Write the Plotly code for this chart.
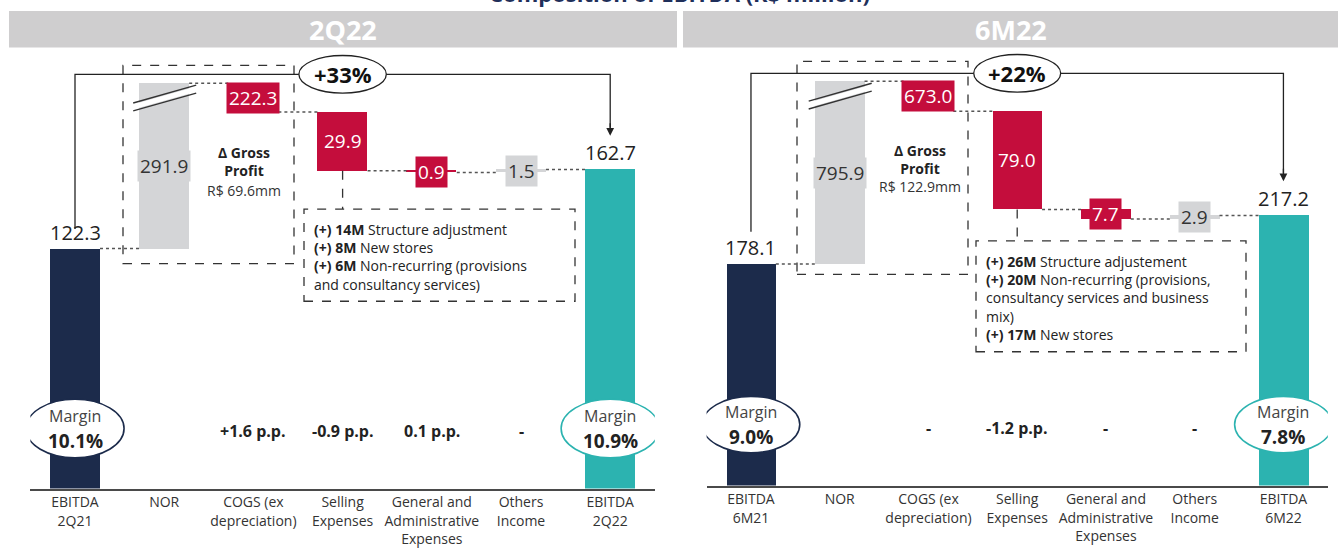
import plotly.graph_objects as go

W, H = 1338, 548
FONT = "'Open Sans', 'Noto Sans', sans-serif"
NAVY = "#1c2b4b"
RED = "#c40d3c"
TEAL = "#2cb3b0"
GREY = "#d4d5d7"
HEAD = "#cfcecf"
INK = "#222222"
LINE = "#555555"

# ---------------- data ----------------
title = "Composition of EBITDA (R$ million)"
panel_titles = ["2Q22", "6M22"]

cats_2q = ["EBITDA<br>2Q21", "NOR", "COGS (ex<br>depreciation)", "Selling<br>Expenses",
           "General and<br>Administrative<br>Expenses", "Others<br>Income", "EBITDA<br>2Q22"]
cats_6m = ["EBITDA<br>6M21", "NOR", "COGS (ex<br>depreciation)", "Selling<br>Expenses",
           "General and<br>Administrative<br>Expenses", "Others<br>Income", "EBITDA<br>6M22"]

vals_2q = [122.3, 291.9, -222.3, -29.9, -0.9, 1.5, 162.7]
vals_6m = [178.1, 795.9, -673.0, -79.0, -7.7, 2.9, 217.2]

pp_2q = ["", "", "+1.6 p.p.", "-0.9 p.p.", "0.1 p.p.", "-", ""]
pp_6m = ["", "", "-", "-1.2 p.p.", "-", "-", ""]

margin_2q = ["10.1%", "10.9%"]
margin_6m = ["9.0%", "7.8%"]

gross_2q = "R$ 69.6mm"
gross_6m = "R$ 122.9mm"

notes_2q = [("(+) 14M", "Structure adjustment"),
            ("(+) 8M", "New stores"),
            ("(+) 6M", "Non-recurring (provisions<br>and consultancy services)")]
notes_6m = [("(+) 26M", "Structure adjustement"),
            ("(+) 20M", "Non-recurring (provisions,<br>consultancy services and business<br>mix)"),
            ("(+) 17M", "New stores")]

# ---------------- geometry (pixels) ----------------
panels = [
    dict(name=panel_titles[0], cats=cats_2q, vals=vals_2q, pp=pp_2q, margins=margin_2q,
         gross=gross_2q, notes=notes_2q,
         x0=30.4, x1=654.8, axis_px=493, ppu=1.98, gap=207.6,
         head=(9, 677), growth_y=75, drop_left=231, arrow_tip=137,
         box1=(123, 294, 66, 266), box2=(304, 575, 211, 304),
         gross_y=(163, 192), pp_y=435, ell=(403, 462), marg_y=(420, 445)),
    dict(name=panel_titles[1], cats=cats_6m, vals=vals_6m, pp=pp_6m, margins=margin_6m,
         gross=gross_6m, notes=notes_6m,
         x0=706.6, x1=1327.8, axis_px=490, ppu=1.255, gap=648.9,
         head=(683, 1338), growth_y=74, drop_left=234, arrow_tip=183,
         box1=(797, 968, 62, 277), box2=(976, 1246, 243, 355),
         gross_y=(161, 188), pp_y=432, ell=(400, 457), marg_y=(416, 441)),
]


def py2p(py):
    return 1 - py / H


def ann(**kw):
    d = dict(showarrow=False, xanchor="center", yanchor="middle")
    d.update(kw)
    return d


fig = go.Figure()
shapes = []
annotations = []

for k, p in enumerate(panels):
    xa = "x" if k == 0 else "x2"
    ya = "y" if k == 0 else "y2"
    step = (p["x1"] - p["x0"]) / 7

    def px2x(px, p=p, step=step):
        return (px - p["x0"]) / step - 0.5

    def v2py(v, p=p):
        return p["axis_px"] - v * p["ppu"]

    cap = p["axis_px"] / p["ppu"]
    vals = p["vals"]
    n = len(vals)
    starts, ends = [], []
    run = 0.0
    for i, v in enumerate(vals):
        if i == 0 or i == n - 1:
            s, e = 0.0, v
        else:
            s, e = run, run + v
        run = e
        starts.append(s)
        ends.append(e)

    def disp(L):
        return L - p["gap"] if L > cap else L

    ds = [disp(s) for s in starts]
    de = [disp(e) for e in ends]
    colors = []
    for i, v in enumerate(vals):
        if i == 0:
            colors.append(NAVY)
        elif i == n - 1:
            colors.append(TEAL)
        elif v >= 0:
            colors.append(GREY)
        else:
            colors.append(RED)

    fig.add_trace(go.Bar(x=list(range(n)), y=[e - s for s, e in zip(ds, de)], base=ds,
                         marker=dict(color=colors, line=dict(width=0)), width=0.56,
                         xaxis=xa, yaxis=ya, hoverinfo="skip", showlegend=False))

    # dotted connectors
    hw = 0.28
    for i in range(n - 1):
        lvl = de[i]
        shapes.append(dict(type="line", xref=xa, yref=ya, x0=i + hw, x1=i + 1 - hw,
                           y0=lvl, y1=lvl, line=dict(color=LINE, width=1.5, dash="dot")))

    # value labels
    for i, v in enumerate(vals):
        txt = f"{abs(v):.1f}"
        mid = (ds[i] + de[i]) / 2
        if i == 0 or i == n - 1:
            annotations.append(ann(x=i, y=de[i], xref=xa, yref=ya, text=txt,
                                   yanchor="bottom", yshift=1,
                                   font=dict(size=20, color=INK, family=FONT)))
        elif colors[i] == GREY:
            annotations.append(ann(x=i, y=mid, xref=xa, yref=ya, text=txt,
                                   bgcolor=GREY, borderpad=2,
                                   font=dict(size=19, color="#333333", family=FONT)))
        else:
            big = abs(de[i] - ds[i]) * p["ppu"] > 40
            a = ann(x=i, y=mid, xref=xa, yref=ya, text=txt, borderpad=2,
                    font=dict(size=19, color="white", family=FONT))
            if not big:
                a["bgcolor"] = RED
            annotations.append(a)

    # break marks on NOR bar
    top_py = v2py(de[1])
    cx = p["x0"] + step * 1.5
    bx0, bx1 = px2x(cx - 31), px2x(cx + 32)
    shapes.append(dict(type="line", xref=xa, yref="paper", x0=bx0, x1=bx1,
                       y0=py2p(top_py + 24), y1=py2p(top_py + 6),
                       line=dict(color="white", width=5)))
    for off in (20, 28):
        shapes.append(dict(type="line", xref=xa, yref="paper", x0=bx0, x1=bx1,
                           y0=py2p(top_py + off), y1=py2p(top_py + off - 18),
                           line=dict(color="#333333", width=1.4)))

    # dashed boxes
    b = p["box1"]
    shapes.append(dict(type="rect", xref=xa, yref="paper", x0=px2x(b[0]), x1=px2x(b[1]),
                       y0=py2p(b[3]), y1=py2p(b[2]),
                       line=dict(color="#333333", width=1.3, dash="dash"), layer="below"))
    b2 = p["box2"]
    shapes.append(dict(type="rect", xref=xa, yref="paper", x0=px2x(b2[0]), x1=px2x(b2[1]),
                       y0=py2p(b2[3]), y1=py2p(b2[2]),
                       line=dict(color="#333333", width=1.3, dash="dash")))
    shapes.append(dict(type="line", xref=xa, yref="paper", x0=3, x1=3,
                       y0=py2p(v2py(de[3])), y1=py2p(b2[2]),
                       line=dict(color="#333333", width=1.3, dash="dash")))
    notes_txt = "<br>".join(f"<b>{a}</b> {t}" for a, t in p["notes"])
    annotations.append(ann(x=px2x(b2[0] + 8), y=py2p(b2[2] + 9), xref=xa, yref="paper",
                           text=notes_txt, xanchor="left", yanchor="top",
                           align="left", font=dict(size=14, color=INK, family=FONT)))

    # gross profit text
    annotations.append(ann(x=1.9, y=py2p(p["gross_y"][0]), xref=xa, yref="paper",
                           text="<b>Δ Gross<br>Profit</b>",
                           font=dict(size=14, color=INK, family=FONT)))
    annotations.append(ann(x=1.9, y=py2p(p["gross_y"][1]), xref=xa, yref="paper",
                           text=p["gross"], font=dict(size=14, color="#333333", family=FONT)))

    # growth line + bubble
    gy = py2p(p["growth_y"])
    shapes.append(dict(type="path", xref=xa, yref="paper",
                       path=f"M 0 {py2p(p['drop_left'])} L 0 {gy} L {n-1} {gy} L {n-1} {py2p(p['arrow_tip']-8)}",
                       line=dict(color=INK, width=1.3)))
    annotations.append(ann(x=n - 1, y=py2p(p["arrow_tip"]), xref=xa, yref="paper", text="",
                           showarrow=True, ax=0, ay=-14, arrowhead=2, arrowsize=1.2,
                           arrowwidth=1.3, arrowcolor=INK))
    shapes.append(dict(type="circle", xref=xa, yref="paper", x0=3 - 0.49, x1=3 + 0.49,
                       y0=py2p(p["growth_y"] + 19), y1=py2p(p["growth_y"] - 19),
                       fillcolor="white", line=dict(color=INK, width=1.3)))
    growth = (vals[-1] / vals[0] - 1) * 100
    annotations.append(ann(x=3, y=gy, xref=xa, yref="paper", text=f"<b>{growth:+.0f}%</b>",
                           font=dict(size=22, color="#111111", family=FONT)))

    # margin bubbles
    for j, (idx, col) in enumerate([(0, NAVY), (n - 1, TEAL)]):
        shapes.append(dict(type="circle", xref=xa, yref="paper", x0=idx - 0.55, x1=idx + 0.55,
                           y0=py2p(p["ell"][1]), y1=py2p(p["ell"][0]),
                           fillcolor="white", line=dict(color=col, width=1.6)))
        annotations.append(ann(x=idx, y=py2p(p["marg_y"][0]), xref=xa, yref="paper",
                               text="Margin", font=dict(size=16, color="#444444", family=FONT)))
        annotations.append(ann(x=idx, y=py2p(p["marg_y"][1]), xref=xa, yref="paper",
                               text=f"<b>{p['margins'][j]}</b>",
                               font=dict(size=19, color=INK, family=FONT)))

    # p.p. labels
    for i, t in enumerate(p["pp"]):
        if t:
            annotations.append(ann(x=i, y=py2p(p["pp_y"]), xref=xa, yref="paper",
                                   text=f"<b>{t}</b>", font=dict(size=16, color=INK, family=FONT)))

    # header bar
    shapes.append(dict(type="rect", xref="paper", yref="paper", x0=p["head"][0] / W,
                       x1=p["head"][1] / W, y0=py2p(48), y1=py2p(11),
                       fillcolor=HEAD, line=dict(width=0), layer="below"))
    annotations.append(ann(x=(p["head"][0] + p["head"][1]) / 2 / W, y=py2p(30),
                           xref="paper", yref="paper", text=f"<b>{p['name']}</b>",
                           font=dict(size=27, color="white", family=FONT)))

    axis_x = dict(domain=[p["x0"] / W, p["x1"] / W], range=[-0.5, n - 0.5],
                  tickmode="array", tickvals=list(range(n)), ticktext=p["cats"],
                  showline=True, linecolor="#4a4a4a", linewidth=2, showgrid=False,
                  zeroline=False, ticks="", tickfont=dict(size=14, color="#333333", family=FONT),
                  fixedrange=True)
    axis_y = dict(domain=[(H - p["axis_px"]) / H, 1], range=[0, cap], visible=False,
                  fixedrange=True)
    if k == 0:
        fig.update_layout(xaxis=axis_x, yaxis=axis_y)
    else:
        axis_y["anchor"] = "x2"
        axis_x["anchor"] = "y2"
        fig.update_layout(xaxis2=axis_x, yaxis2=axis_y)

annotations.append(ann(x=0.508, y=py2p(10), xref="paper", yref="paper",
                       text=f"<b>{title}</b>", yanchor="bottom",
                       font=dict(size=22, color="#1f2f5a", family=FONT)))

fig.update_layout(width=W, height=H, margin=dict(l=0, r=0, t=0, b=0),
                  paper_bgcolor="white", plot_bgcolor="white",
                  shapes=shapes, annotations=annotations, bargap=0,
                  font=dict(family=FONT))

fig.write_html("out.html", config={"displayModeBar": False},
               post_script="document.body.style.margin='0';")
